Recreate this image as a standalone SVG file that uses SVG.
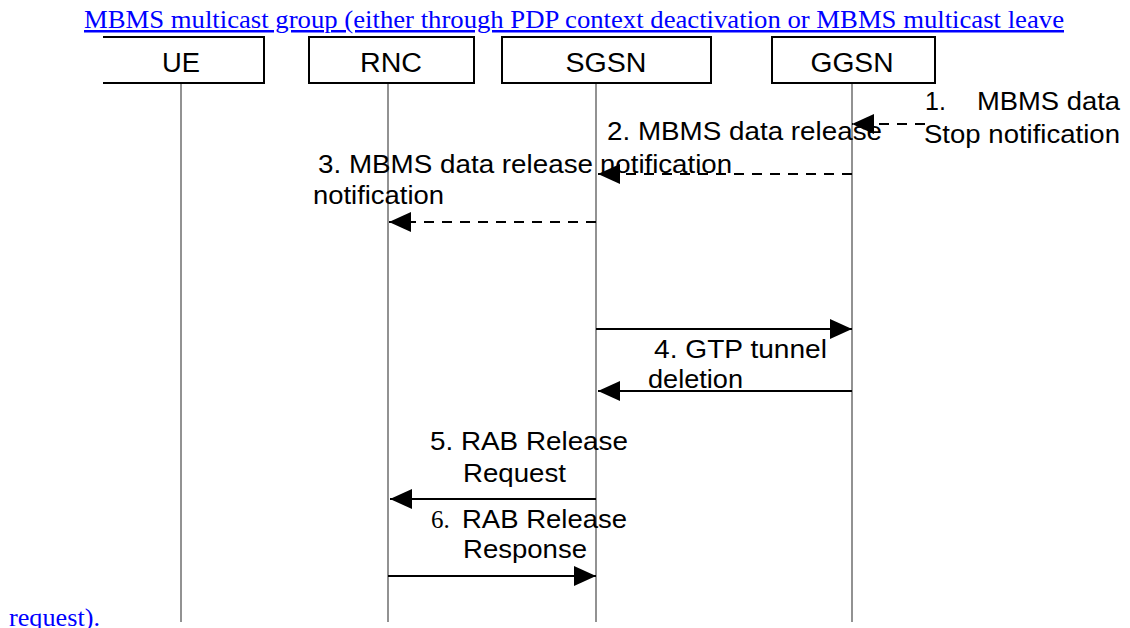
<svg xmlns="http://www.w3.org/2000/svg" width="1130" height="628" viewBox="0 0 1130 628">
<style>
.box{fill:#fff;stroke:#000;stroke-width:2}
.life{stroke:#6e6e6e;stroke-width:1.5;fill:none}
.msg{stroke:#000;stroke-width:2;fill:none}
.dash{stroke-dasharray:10 8}
.nl{font-family:"Liberation Sans",Arial,sans-serif;font-size:27px;fill:#000}
.lb{font-family:"Liberation Sans",Arial,sans-serif;font-size:25px;fill:#000}
.ser{font-family:"Liberation Serif","Times New Roman",serif}
.link{font-family:"Liberation Serif","Times New Roman",serif;font-size:25px;fill:#0000ff}
</style>
<defs>
<marker id="ah" viewBox="0 0 22 20" refX="22" refY="10" markerWidth="22" markerHeight="20" markerUnits="userSpaceOnUse" orient="auto">
<path d="M0,0 L22,10 L0,20 z" fill="#000"/>
</marker>
</defs>
<rect width="1130" height="628" fill="#fff"/>
<text class="link" x="84" y="28" textLength="980" lengthAdjust="spacingAndGlyphs" text-decoration="underline">MBMS multicast group (either through PDP context deactivation or MBMS multicast leave</text>
<text class="link" x="9" y="626" textLength="91" lengthAdjust="spacingAndGlyphs">request).</text>

<g id="UE">
<path class="box" d="M103,37 H264 V83 H103"/>
<line class="life" x1="181" y1="84" x2="181" y2="622"/>
<text class="nl" x="181" y="72" text-anchor="middle" textLength="38" lengthAdjust="spacingAndGlyphs">UE</text>
</g>
<g id="RNC">
<rect class="box" x="309" y="37" width="165" height="46"/>
<line class="life" x1="388" y1="84" x2="388" y2="622"/>
<text class="nl" x="391" y="72" text-anchor="middle" textLength="62" lengthAdjust="spacingAndGlyphs">RNC</text>
</g>
<g id="SGSN">
<rect class="box" x="502" y="37" width="209" height="46"/>
<line class="life" x1="596" y1="84" x2="596" y2="622"/>
<text class="nl" x="606" y="72" text-anchor="middle" textLength="81" lengthAdjust="spacingAndGlyphs">SGSN</text>
</g>
<g id="GGSN">
<rect class="box" x="772" y="37" width="163" height="46"/>
<line class="life" x1="852" y1="84" x2="852" y2="622"/>
<text class="nl" x="852" y="72" text-anchor="middle" textLength="83" lengthAdjust="spacingAndGlyphs">GGSN</text>
</g>

<g id="connectors">
<line class="msg dash" x1="925" y1="124" x2="852" y2="124" marker-end="url(#ah)"/>
<line class="msg dash" x1="852" y1="174" x2="598" y2="174" marker-end="url(#ah)"/>
<line class="msg dash" x1="596" y1="222" x2="389" y2="222" marker-end="url(#ah)"/>
<line class="msg" x1="596" y1="329" x2="852" y2="329" marker-end="url(#ah)"/>
<line class="msg" x1="852" y1="391" x2="598" y2="391" marker-end="url(#ah)"/>
<line class="msg" x1="596" y1="499" x2="390" y2="499" marker-end="url(#ah)"/>
<line class="msg" x1="388" y1="576" x2="596" y2="576" marker-end="url(#ah)"/>
</g>

<g id="labels">
<text class="lb" x="925" y="110">1.</text>
<text class="lb" x="977" y="110" textLength="143" lengthAdjust="spacingAndGlyphs">MBMS data</text>
<text class="lb" x="924" y="143" textLength="196" lengthAdjust="spacingAndGlyphs">Stop notification</text>
<text class="lb" x="607" y="140" textLength="275" lengthAdjust="spacingAndGlyphs">2. MBMS data release</text>
<text class="lb" x="600" y="173" textLength="132" lengthAdjust="spacingAndGlyphs">notification</text>
<text class="lb" x="318" y="173" textLength="275" lengthAdjust="spacingAndGlyphs">3. MBMS data release</text>
<text class="lb" x="313" y="204" textLength="131" lengthAdjust="spacingAndGlyphs">notification</text>
<text class="lb" x="654" y="358" textLength="173" lengthAdjust="spacingAndGlyphs">4. GTP tunnel</text>
<text class="lb" x="648" y="388" textLength="95" lengthAdjust="spacingAndGlyphs">deletion</text>
<text class="lb" x="430" y="450" textLength="198" lengthAdjust="spacingAndGlyphs">5. RAB Release</text>
<text class="lb" x="463" y="482" textLength="103" lengthAdjust="spacingAndGlyphs">Request</text>
<text class="lb ser" x="431" y="528">6.</text>
<text class="lb" x="462" y="528" textLength="165" lengthAdjust="spacingAndGlyphs">RAB Release</text>
<text class="lb" x="463" y="558" textLength="124" lengthAdjust="spacingAndGlyphs">Response</text>
</g>
</svg>
